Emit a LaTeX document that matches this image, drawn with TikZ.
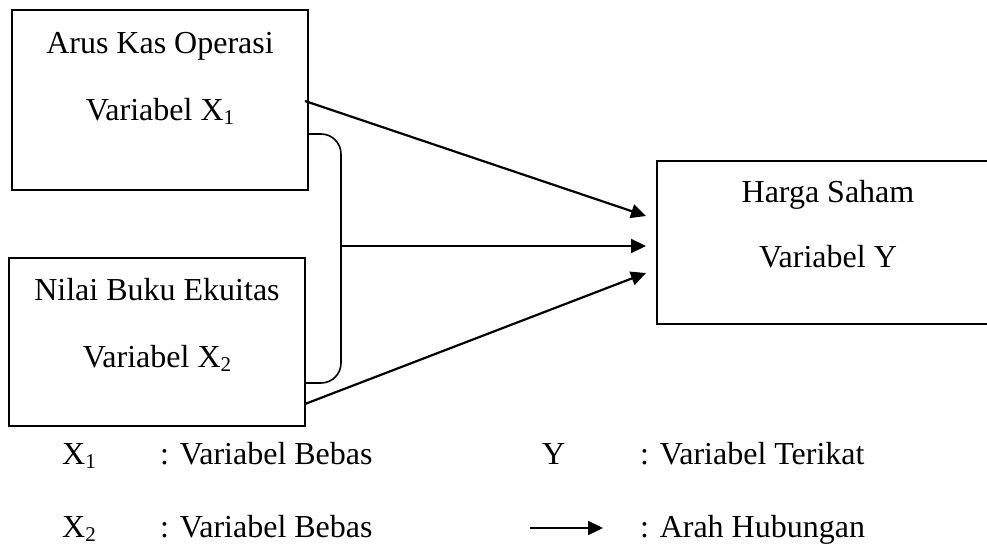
\documentclass[tikz,border=0pt]{standalone}
\usepackage{fontspec}
\setmainfont{Liberation Serif}
\usetikzlibrary{arrows.meta,calc}
\newcommand{\mysub}[1]{\raisebox{-4pt}{\fontsize{21}{21}\selectfont #1}}
\tikzset{
  box/.style={draw, line width=2pt, rectangle, inner sep=0pt},
  lbl/.style={anchor=base, inner sep=0pt, font=\fontsize{32}{38}\selectfont},
  leg/.style={anchor=base west, inner sep=0pt, font=\fontsize{32}{38}\selectfont},
  arr/.style={line width=2.2pt, -{Triangle[length=15pt,width=14pt]}},
  brk/.style={line width=1.6pt, rounded corners=20pt}
}
\begin{document}
\begin{tikzpicture}[x=1pt,y=-1pt]
\useasboundingbox (0,0) rectangle (987,546);
\clip (0,0) rectangle (987,546);
% boxes
\node[box, minimum width=296pt, minimum height=180pt] (b1) at (160,100) {};
\node[box, minimum width=296pt, minimum height=168pt] (b2) at (157,342) {};
\node[box, minimum width=343pt, minimum height=163pt] (b3) at (828.5,242.5) {};
% box texts
\node[lbl] (t1a) at (160,53) {Arus Kas Operasi};
\node[lbl] (t1b) at (160,120) {Variabel X\mysub{1}};
\node[lbl] (t2a) at (157,300) {Nilai Buku Ekuitas};
\node[lbl] (t2b) at (157,367) {Variabel X\mysub{2}};
\node[lbl] (t3a) at (828,202) {Harga Saham};
\node[lbl] (t3b) at (828,267) {Variabel Y};
% bracket
\coordinate (brtop) at (b1.east |- 0,134);
\coordinate (brbot) at (b2.east |- 0,383);
\draw[brk] (brtop) -- (341,134) -- (341,383) -- (brbot);
\coordinate (brc) at (342,246);
% arrow targets
\coordinate (e1) at ($(b3.west |- 0,216)+(-10,0)$);
\coordinate (e2) at ($(b3.west |- 0,246)+(-10,0)$);
\coordinate (e3) at ($(b3.west |- 0,273)+(-10,0)$);
\coordinate (s1) at ($(b1.east |- 0,101)+(-4,0)$);
\coordinate (s3) at ($(b2.east |- 0,404)+(-1,0)$);
\draw[arr] (s1) -- (e1);
\draw[arr] (brc) -- (e2);
\draw[arr] (s3) -- (e3);
% legend
\node[leg] (l1) at (62,464) {X\mysub{1}};
\node[leg] (l1t) at (160,464) {: Variabel Bebas};
\node[leg] (l2) at (542,464) {Y};
\node[leg] (l2t) at (640,464) {: Variabel Terikat};
\node[leg] (l3) at (62,537) {X\mysub{2}};
\node[leg] (l3t) at (160,537) {: Variabel Bebas};
\coordinate (la) at (530,528);
\coordinate (lb) at (603,528);
\draw[arr] (la) -- (lb);
\node[leg] (l4t) at (640,537) {: Arah Hubungan};
\end{tikzpicture}
\end{document}
